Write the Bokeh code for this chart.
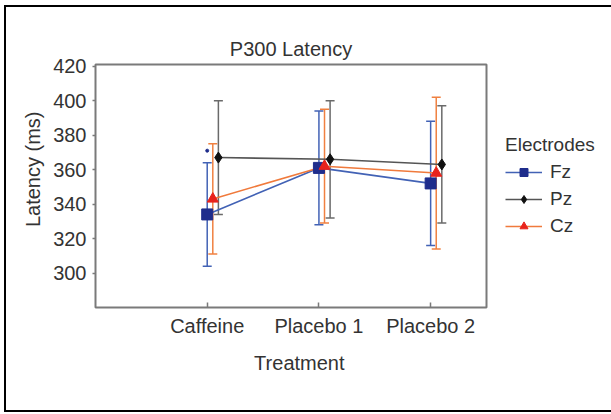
from bokeh.plotting import figure
from bokeh.models import Whisker, TeeHead, ColumnDataSource, Legend, LegendItem, FixedTicker, Range1d
from bokeh.embed import file_html
from bokeh.resources import INLINE

# ---- data ----
treatments = ["Caffeine", "Placebo 1", "Placebo 2"]
positions = [1, 2, 3]
fz_mean = [334, 361, 352]
fz_low = [304, 328, 316]
fz_high = [364, 394, 388]
pz_mean = [367, 366, 363]
pz_low = [334, 332, 329]
pz_high = [400, 400, 397]
cz_mean = [343, 362, 358]
cz_low = [311, 329, 314]
cz_high = [375, 395, 402]
y_ticks = [300, 320, 340, 360, 380, 400, 420]
sig_x = [1]
sig_y = [371]

FONT = "Liberation Sans"
TXT = "#333333"
GRID = "#7a7a7a"
NB = "\u00a0"

p = figure(frame_width=391, frame_height=243, output_backend="svg", toolbar_location=None,
           x_range=Range1d(0, 3.5), y_range=Range1d(280, 421),
           min_border_left=89, min_border_top=57, min_border_right=118, min_border_bottom=103,
           title="P300 Latency")
p.styles = {"border": "2px solid black", "margin-left": "4px", "margin-top": "5px"}
p.background_fill_color = "white"
p.border_fill_color = "white"
p.outline_line_color = GRID
p.outline_line_width = 2
p.xgrid.visible = False
p.ygrid.visible = False

p.title.text_font = FONT
p.title.text_font_size = "20px"
p.title.text_font_style = "normal"
p.title.text_color = TXT
p.title.align = "center"
p.title.standoff = 10

for ax in (p.xaxis[0], p.yaxis[0]):
    ax.axis_line_color = None
    ax.major_tick_line_color = GRID
    ax.major_tick_line_width = 1.5
    ax.minor_tick_line_color = None
    ax.major_label_text_font = FONT
    ax.major_label_text_font_size = "20px"
    ax.major_label_text_color = TXT
    ax.axis_label_text_font = FONT
    ax.axis_label_text_font_style = "normal"
    ax.axis_label_text_color = TXT
    ax.axis_label_text_font_size = "20px"

p.xaxis.ticker = FixedTicker(ticks=positions)
p.xaxis.major_label_overrides = {pos: t for pos, t in zip(positions, treatments)}
p.xaxis.major_tick_in = 5
p.xaxis.major_tick_out = 0
p.xaxis.major_label_standoff = 7
p.xaxis.axis_label = NB * 3 + "Treatment"
p.xaxis.axis_label_standoff = 12

p.yaxis.ticker = FixedTicker(ticks=y_ticks)
p.yaxis.major_tick_in = 0
p.yaxis.major_tick_out = 3
p.yaxis.major_label_standoff = 6
p.yaxis.axis_label = NB * 6 + "Latency (ms)"
p.yaxis.axis_label_standoff = 6

series = [
    ("Fz", fz_mean, fz_low, fz_high, 0.0, "#4262b5", "#4262b5", "#1f2d8c", "square", 11),
    ("Pz", pz_mean, pz_low, pz_high, 0.10, "#555555", "#6a6a6a", "#111111", "diamond", 11),
    ("Cz", cz_mean, cz_low, cz_high, 0.05, "#f07a3c", "#f08040", "#e8231c", "triangle", 11),
]

items = []
line_rs = {}
for name, mean, low, high, off, lcol, ecol, mcol, marker, msize in series:
    src = ColumnDataSource(dict(x=[x + off for x in positions], y=mean, lo=low, hi=high))
    w = Whisker(source=src, base="x", upper="hi", lower="lo", dimension="height",
                line_color=ecol, line_width=1.5,
                upper_head=TeeHead(size=9, line_color=ecol, line_width=1.5),
                lower_head=TeeHead(size=9, line_color=ecol, line_width=1.5))
    p.add_layout(w)
    line_rs[name] = (src, lcol, mcol, marker, msize)

rend = {}
for name, (src, lcol, mcol, marker, msize) in line_rs.items():
    lr = p.line("x", "y", source=src, line_color=lcol, line_width=1.6)
    rend[name] = [lr]
for name, (src, lcol, mcol, marker, msize) in line_rs.items():
    sr = p.scatter("x", "y", source=src, marker=marker, size=msize, fill_color=mcol, line_color=mcol)
    rend[name].append(sr)
    items.append(LegendItem(label=name, renderers=rend[name]))

p.scatter(sig_x, sig_y, marker="circle", size=3, fill_color="#1f2d8c", line_color="#1f2d8c")

legend = Legend(items=items, location=(19, 70), title="Electrodes",
                label_text_font=FONT, label_text_font_size="19px", label_text_color=TXT,
                title_text_font=FONT, title_text_font_size="19px", title_text_font_style="normal",
                title_text_color=TXT, title_standoff=5,
                glyph_width=37, glyph_height=20, label_height=20, spacing=5,
                padding=0, margin=0, border_line_color=None, background_fill_alpha=0,
                label_standoff=8)
p.add_layout(legend, "right")

open("out.html", "w").write(file_html(p, INLINE))
